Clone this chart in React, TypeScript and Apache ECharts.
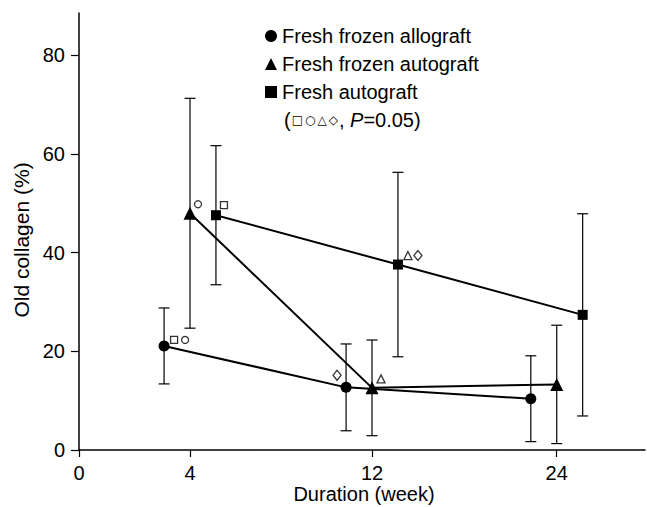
import React, { useEffect, useRef } from "react";
import * as echarts from "echarts";

// ---- data ----
const weeks = [4, 12, 24];
const tickWeeks = [0, 4, 12, 24];
// axis position of each printed week (the printed axis is not uniform)
const tickAxisPos = [0, 1.22, 3.22, 5.25];
const yTicks = [0, 20, 40, 60, 80];

const seriesNames = ["Fresh frozen allograft", "Fresh frozen autograft", "Fresh autograft"];
const allograftMean = [21.1, 12.7, 10.4];
const allograftSD = [7.7, 8.8, 8.7];
const frozenAutograftMean = [48.0, 12.6, 13.3];
const frozenAutograftSD = [23.3, 9.7, 12.0];
const freshAutograftMean = [47.6, 37.6, 27.4];
const freshAutograftSD = [14.1, 18.7, 20.5];

// significance marks (P=0.05): attached to [series, point]
const sigSeries = [0, 0, 1, 2, 0, 1, 2, 2];
const sigPoint = [0, 0, 0, 0, 1, 1, 1, 1];
const sigSymbol = ["rect", "circle", "circle", "rect", "diamond", "triangle", "triangle", "diamond"];

// ---- style ----
const FONT = "'Liberation Sans', Arial, Helvetica, sans-serif";
const groupShift = [-0.285, 0, 0.285];
const sigOffsets = [
  [10, -6], [21, -6], [8, -9], [8, -10], [-9, -12], [9, -9], [10, -9], [20, -9],
];
const sigSizes: Record<string, any> = { rect: 7, circle: 7, triangle: 8, diamond: [8, 10] };
const markerSymbols = ["circle", "triangle", "rect"];
const markerSizes = [11, 13, 10];

const means = [allograftMean, frozenAutograftMean, freshAutograftMean];
const sds = [allograftSD, frozenAutograftSD, freshAutograftSD];

function weekPos(w: number) {
  return tickAxisPos[tickWeeks.indexOf(w)];
}

export default function App() {
  const ref = useRef<HTMLDivElement>(null);

  useEffect(() => {
    if (!ref.current) return;
    const chart = echarts.init(ref.current, undefined, { renderer: "svg" });

    const lineSeries = seriesNames.map((name, s) => ({
      type: "line",
      name,
      data: weeks.map((w, i) => [weekPos(w) + groupShift[s], means[s][i]]),
      symbol: markerSymbols[s],
      symbolSize: markerSizes[s],
      color: "#000",
      itemStyle: { color: "#000" },
      lineStyle: { color: "#000", width: 2 },
      z: 3,
    }));

    const errSeries = seriesNames.map((name, s) => ({
      type: "custom",
      name: name + " SD",
      data: weeks.map((w, i) => [
        weekPos(w) + groupShift[s],
        means[s][i] - sds[s][i],
        means[s][i] + sds[s][i],
      ]),
      encode: { x: 0, y: [1, 2] },
      z: 2,
      renderItem: (params: any, api: any) => {
        const x = api.value(0);
        const top = api.coord([x, api.value(2)]);
        const bot = api.coord([x, api.value(1)]);
        const w = 5.5;
        const st = { stroke: "#000", lineWidth: 1.2 };
        return {
          type: "group",
          children: [
            { type: "line", shape: { x1: top[0], y1: top[1], x2: bot[0], y2: bot[1] }, style: st },
            { type: "line", shape: { x1: top[0] - w, y1: top[1], x2: top[0] + w, y2: top[1] }, style: st },
            { type: "line", shape: { x1: bot[0] - w, y1: bot[1], x2: bot[0] + w, y2: bot[1] }, style: st },
          ],
        };
      },
    }));

    const sigSeriesObj = {
      type: "scatter",
      name: "sig",
      z: 4,
      data: sigSeries.map((s, k) => {
        const i = sigPoint[k];
        return {
          value: [weekPos(weeks[i]) + groupShift[s], means[s][i]],
          symbol: sigSymbol[k],
          symbolSize: sigSizes[sigSymbol[k]],
          symbolOffset: sigOffsets[k],
        };
      }),
      itemStyle: { color: "#fff", borderColor: "#000", borderWidth: 1.3 },
    };

    chart.setOption({
      animation: false,
      backgroundColor: "#fff",
      textStyle: { fontFamily: FONT, color: "#000" },
      grid: { left: 79, right: 2, top: 13, bottom: 57, containLabel: false },
      legend: {
        orient: "vertical",
        left: 265,
        top: 26,
        padding: 0,
        itemWidth: 12,
        itemHeight: 12,
        itemGap: 8,
        selectedMode: false,
        textStyle: { fontSize: 20, color: "#000", fontFamily: FONT },
        data: seriesNames.map((n, s) => ({ name: n, icon: markerSymbols[s] })),
      },
      xAxis: {
        type: "value",
        min: 0,
        max: 6.22,
        splitLine: { show: false },
        axisLine: { onZero: false, lineStyle: { color: "#000", width: 1.5 } },
        axisTick: {
          show: true,
          length: 7,
          customValues: tickAxisPos,
          lineStyle: { color: "#000", width: 1.2 },
        },
        axisLabel: {
          customValues: tickAxisPos,
          margin: 13,
          fontSize: 20,
          color: "#000",
          fontFamily: FONT,
          formatter: (v: number) => {
            const k = tickAxisPos.findIndex((p) => Math.abs(p - v) < 1e-6);
            return k >= 0 ? String(tickWeeks[k]) : "";
          },
        },
      },
      yAxis: {
        type: "value",
        min: 0,
        max: 88.6,
        interval: 20,
        splitLine: { show: false },
        axisLine: { show: true, lineStyle: { color: "#000", width: 1.5 } },
        axisTick: {
          show: true,
          length: 8,
          customValues: yTicks,
          lineStyle: { color: "#000", width: 1.2 },
        },
        axisLabel: {
          customValues: yTicks,
          margin: 14,
          fontSize: 20,
          color: "#000",
          fontFamily: FONT,
        },
      },
      graphic: [
        {
          type: "text",
          x: 21,
          y: 240,
          rotation: Math.PI / 2,
          style: {
            text: "Old collagen (%)",
            fontSize: 21,
            fontFamily: FONT,
            fill: "#000",
            align: "center",
            verticalAlign: "middle",
          },
        },
        {
          type: "text",
          x: 364,
          y: 494,
          style: {
            text: "Duration (week)",
            fontSize: 20,
            fontFamily: FONT,
            fill: "#000",
            align: "center",
            verticalAlign: "middle",
          },
        },
        {
          type: "text",
          x: 284,
          y: 120,
          style: {
            text: "({s|□}{s|○}{s|△}{s|◇}, {i|P}=0.05)",
            fontSize: 20,
            fontFamily: FONT,
            fill: "#000",
            align: "left",
            verticalAlign: "middle",
            rich: {
              s: { fontSize: 12, fontFamily: "'DejaVu Sans', sans-serif", padding: [0, 1, 0, 1], fill: "#000" },
              i: { fontSize: 20, fontStyle: "italic", fontFamily: FONT, fill: "#000" },
            },
          },
        },
      ],
      series: [...errSeries, ...lineSeries, sigSeriesObj],
    });

    return () => chart.dispose();
  }, []);

  return <div ref={ref} style={{ width: 647, height: 507, position: "absolute", left: 0, top: 0 }} />;
}
